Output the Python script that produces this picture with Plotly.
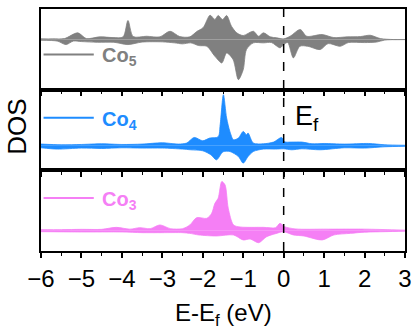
import plotly.graph_objects as go
from plotly.subplots import make_subplots

# Projected DOS of Co sites: spin-up (positive) and spin-down (negative), energies in eV relative to E_f
co5_e_up = [-6.0, -5.71, -5.42, -5.09, -4.88, -4.55, -4.22, -3.97, -3.85, -3.72, -3.39, -3.06, -2.81,
            -2.57, -2.32, -2.15, -1.99, -1.82, -1.70, -1.62, -1.51, -1.41, -1.29, -1.16, -1.0, -0.75,
            -0.62, -0.50, -0.33, -0.17, 0.0, 0.16, 0.41, 0.57, 0.95, 1.24, 1.57, 1.90, 2.14, 2.39, 2.72, 3.0]
co5_up = [0.07, 0.07, 0.1, 0.67, 0.1, 0.27, 0.2, 0.27, 1.9, 0.3, 0.33, 0.27, 0.83,
          0.3, 0.27, 0.8, 1.2, 2.43, 2.0, 2.4, 2.0, 2.4, 1.33, 0.67, 0.4, 0.83,
          0.33, 0.67, 0.27, 0.17, 0.07, 0.33, 1.0, 0.33, 0.5, 0.2, 0.27, 0.3, 0.43, 0.1, 0.0, 0.0]
co5_e_dn = [-6.0, -5.6, -5.38, -5.2, -5.0, -4.6, -4.2, -3.85, -3.5, -3.0, -2.7, -2.5, -2.3, -2.1,
            -1.9, -1.7, -1.53, -1.41, -1.25, -1.12, -1.0, -0.92, -0.75, -0.5, -0.3, -0.09, 0.0,
            0.1, 0.24, 0.4, 0.6, 0.9, 1.1, 1.4, 1.6, 2.0, 2.3, 2.5, 3.0]
co5_dn = [-0.07, -0.15, -0.5, -0.15, -0.2, -0.27, -0.27, -0.5, -0.25, -0.23, -0.33, -0.43, -0.33, -0.6,
          -0.67, -1.67, -2.33, -1.33, -2.0, -4.0, -3.0, -1.0, -0.33, -0.33, -0.3, -0.83, -0.5,
          -0.3, -1.83, -0.67, -0.67, -1.0, -0.4, -0.67, -0.3, -0.3, -0.25, -0.05, 0.0]

co4_e_up = [-6.0, -5.5, -5.0, -4.5, -4.0, -3.5, -3.0, -2.6, -2.4, -2.21, -2.0, -1.83, -1.62, -1.57,
            -1.49, -1.41, -1.33, -1.24, -1.12, -1.0, -0.92, -0.88, -0.75, -0.5, -0.25, -0.05, 0.02,
            0.2, 0.45, 0.7, 1.0, 1.5, 2.1, 2.5, 3.0]
co4_up = [0.17, 0.1, 0.13, 0.2, 0.13, 0.17, 0.3, 0.17, 0.27, 0.83, 0.5, 0.77, 0.9, 2.1,
          5.1, 2.77, 1.43, 0.6, 0.77, 1.43, 1.1, 1.27, 0.27, 0.2, 0.37, 0.83, 0.4,
          0.37, 0.37, 0.2, 0.23, 0.17, 0.23, 0.1, 0.05]
co4_e_dn = [-6.0, -5.6, -5.0, -4.5, -4.0, -3.5, -3.0, -2.5, -2.3, -2.0, -1.8, -1.66, -1.5, -1.33,
            -1.12, -1.0, -0.88, -0.75, -0.5, -0.2, 0.0, 0.2, 0.45, 0.9, 1.5, 2.0, 2.5, 3.0]
co4_dn = [-0.2, -0.33, -0.23, -0.27, -0.2, -0.23, -0.23, -0.33, -0.4, -0.5, -0.9, -1.4, -0.6, -0.57,
          -1.07, -1.73, -1.07, -0.57, -0.33, -0.33, -0.3, -0.4, -0.3, -0.4, -0.2, -0.23, -0.1, -0.05]

co3_e_up = [-6.0, -5.5, -5.0, -4.5, -4.14, -3.8, -3.56, -3.3, -3.06, -2.8, -2.5, -2.32, -2.15, -1.9,
            -1.78, -1.70, -1.62, -1.53, -1.45, -1.37, -1.24, -1.08, -0.5, -0.2, -0.09, 0.02, 0.3,
            1.0, 2.0, 3.0]
co3_up = [0.1, 0.1, 0.13, 0.13, 0.33, 0.15, 0.3, 0.2, 0.57, 0.2, 0.2, 0.57, 1.3, 1.23,
          1.73, 2.73, 3.23, 4.9, 4.57, 2.23, 0.57, 0.37, 0.33, 0.3, 0.73, 0.4, 0.17,
          0.15, 0.15, 0.05]
co3_e_dn = [-6.0, -5.0, -4.0, -3.5, -3.0, -2.5, -2.32, -2.1, -1.66, -1.24, -1.0, -0.83, -0.62, -0.42,
            -0.2, 0.0, 0.24, 0.5, 0.95, 1.24, 1.65, 2.0, 2.5, 3.0]
co3_dn = [-0.1, -0.13, -0.13, -0.2, -0.2, -0.2, -0.27, -0.43, -0.53, -0.43, -0.93, -0.83, -1.2, -0.6,
          -0.3, -0.1, -0.43, -0.53, -0.93, -0.43, -0.27, -0.15, -0.1, -0.05]

labels = ["Co<sub>5</sub>", "Co<sub>4</sub>", "Co<sub>3</sub>"]
colors = ["#808080", "#1E8CFF", "#F57FF5"]
y_ranges = [[-5.0, 3.05], [-2.45, 5.6], [-2.03, 6.02]]
legend_y = [0.435, 0.652, 0.658]
x_ticks = [-6, -5, -4, -3, -2, -1, 0, 1, 2, 3]

panels = [
    (co5_e_up, co5_up, co5_e_dn, co5_dn),
    (co4_e_up, co4_up, co4_e_dn, co4_dn),
    (co3_e_up, co3_up, co3_e_dn, co3_dn),
]

FONT = "Arial, Liberation Sans, sans-serif"

fig = make_subplots(rows=3, cols=1, shared_xaxes=True, vertical_spacing=0)

for i, (eu, u, ed, d) in enumerate(panels):
    row = i + 1
    for xs, ys in ((eu, u), (ed, d)):
        fig.add_trace(go.Scatter(
            x=xs, y=ys, mode="lines", fill="tozeroy",
            line=dict(color=colors[i], width=0.8, shape="spline", smoothing=0.8),
            fillcolor=colors[i], showlegend=False, hoverinfo="skip",
        ), row=row, col=1)
    fig.update_yaxes(range=y_ranges[i], row=row, col=1)

    xref = "x" if row == 1 else f"x{row}"
    yref = "y" if row == 1 else f"y{row}"
    # legend key line and label
    fig.add_shape(type="line", xref=f"{xref} domain", yref=f"{yref} domain",
                  x0=0.007, x1=0.145, y0=legend_y[i], y1=legend_y[i],
                  line=dict(color=colors[i], width=2))
    fig.add_annotation(text=f"<b>{labels[i]}</b>", xref=f"{xref} domain", yref=f"{yref} domain",
                       x=0.162, y=legend_y[i] - 0.03, xanchor="left", yanchor="middle",
                       showarrow=False, font=dict(family=FONT, size=20, color=colors[i]))

# Fermi level
fig.add_shape(type="line", xref="x3", yref="paper", x0=0, x1=0, y0=0, y1=1,
              line=dict(color="black", width=1.5, dash="dash"))
fig.add_annotation(text="E<sub>f</sub>", xref="x2", yref="y2 domain", x=0.22, y=0.65,
                   xanchor="left", yanchor="middle", showarrow=False,
                   font=dict(family=FONT, size=27, color="black"))

fig.update_xaxes(range=[-6, 3], tickvals=x_ticks, ticks="outside", ticklen=5, tickwidth=1.5,
                 tickcolor="black", showline=True, linecolor="black", linewidth=1.5, mirror=True,
                 showgrid=False, zeroline=False, automargin=False,
                 minor=dict(ticks="outside", dtick=0.5, ticklen=3, tickwidth=1.2, tickcolor="black"),
                 tickfont=dict(family=FONT, size=24, color="black"))
fig.update_xaxes(showticklabels=False, row=1, col=1)
fig.update_xaxes(showticklabels=False, row=2, col=1)
fig.update_yaxes(showticklabels=False, ticks="", showline=True, linecolor="black", linewidth=1.5,
                 mirror=True, showgrid=False, zeroline=False, automargin=False)

# axis titles
fig.add_annotation(text="E-E<sub>f</sub> (eV)", xref="x3 domain", yref="paper", x=0.5, y=-0.192,
                   xanchor="center", yanchor="top", showarrow=False,
                   font=dict(family=FONT, size=24, color="black"))
fig.add_annotation(text="DOS", xref="paper", yref="paper", x=-0.065, y=0.515, textangle=-90,
                   xanchor="center", yanchor="middle", showarrow=False,
                   font=dict(family=FONT, size=26, color="black"))

fig.update_layout(width=417, height=333, margin=dict(l=41, r=12, t=9, b=82, autoexpand=False),
                  plot_bgcolor="white", paper_bgcolor="white", showlegend=False)

fig.write_html("out.html")
